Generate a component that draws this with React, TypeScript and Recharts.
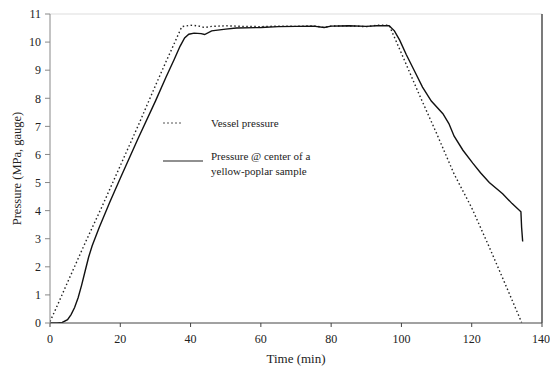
import React from 'react';
import { LineChart, Line, XAxis, YAxis, ReferenceLine, Legend, Label } from 'recharts';

const vesselTime = [0, 2, 5, 10, 15, 20, 25, 30, 33, 35, 37.5, 40, 42, 44, 46, 50, 55, 60, 65, 70, 75, 78, 80, 85, 90, 93, 96.5, 100, 105, 110, 115, 120, 125, 130, 134.2];
const vesselPressure = [0.05, 0.6, 1.45, 2.85, 4.2, 5.6, 7.0, 8.45, 9.3, 9.85, 10.55, 10.6, 10.58, 10.52, 10.56, 10.58, 10.56, 10.55, 10.57, 10.56, 10.58, 10.52, 10.57, 10.58, 10.55, 10.6, 10.6, 9.6, 8.15, 6.75, 5.3, 4.1, 2.7, 1.25, 0.02];

const sampleTime = [0, 2, 3.5, 5, 6, 7, 8, 9, 10, 11, 12, 14, 17, 20, 25, 30, 33, 35.4, 37, 38.3, 39.5, 41, 43, 44, 46, 50, 53, 60, 65, 70, 75, 78, 80, 85, 90, 93, 96.5, 98, 99.5, 101.4, 104, 106, 108.5, 111.8, 113.5, 115, 117.5, 120.3, 122.5, 125, 128.8, 131.5, 134, 134.2, 134.5];
const samplePressure = [0, 0, 0.02, 0.12, 0.3, 0.55, 0.9, 1.35, 1.85, 2.35, 2.75, 3.4, 4.3, 5.15, 6.55, 7.9, 8.75, 9.4, 9.85, 10.15, 10.28, 10.32, 10.3, 10.27, 10.4, 10.46, 10.5, 10.52, 10.55, 10.56, 10.57, 10.52, 10.57, 10.58, 10.56, 10.58, 10.58, 10.4, 10.07, 9.55, 8.9, 8.4, 7.9, 7.45, 7.1, 6.65, 6.15, 5.69, 5.35, 5.0, 4.6, 4.25, 3.96, 3.4, 2.9];

const xTicks = [0, 20, 40, 60, 80, 100, 120, 140];
const yTicks = [0, 1, 2, 3, 4, 5, 6, 7, 8, 9, 10, 11];

const vesselData = vesselTime.map((t, i) => ({ t, p: vesselPressure[i] }));
const sampleData = sampleTime.map((t, i) => ({ t, p: samplePressure[i] }));

const FONT = '"Liberation Serif", "Times New Roman", serif';

const LegendContent = () => (
  <svg width={200} height={70}>
    <line x1={3} y1={13} x2={23} y2={13} stroke="#555" strokeWidth={1} strokeDasharray="2 2" />
    <text x={51} y={13} fontSize={11} fill="#222" fontFamily={FONT} dominantBaseline="central">Vessel pressure</text>
    <line x1={3} y1={51} x2={43} y2={51} stroke="#222" strokeWidth={1.2} />
    <text x={51} y={46} fontSize={11} fill="#222" fontFamily={FONT} dominantBaseline="central">Pressure @ center of a</text>
    <text x={51} y={61} fontSize={11} fill="#222" fontFamily={FONT} dominantBaseline="central">yellow-poplar sample</text>
  </svg>
);

export default function App() {
  return (
    <div style={{ position: 'absolute', left: 0, top: 0, width: 550, height: 371, background: '#fff' }}>
      <LineChart width={550} height={371} margin={{ top: 14, right: 8, bottom: 0, left: 0 }}>
        <XAxis
          type="number"
          dataKey="t"
          domain={[0, 140]}
          ticks={xTicks}
          allowDataOverflow
          height={48}
          tickSize={4}
          tickMargin={7}
          stroke="#444"
          tick={{ fontSize: 12, fill: '#222', fontFamily: FONT }}
        >
          <Label value="Time (min)" position="insideBottom" offset={8} style={{ fontSize: 13, fill: '#222', fontFamily: FONT }} />
        </XAxis>
        <YAxis
          type="number"
          dataKey="p"
          domain={[0, 11]}
          ticks={yTicks}
          interval={0}
          allowDataOverflow
          width={50}
          tickSize={5}
          tickMargin={4}
          stroke="#888"
          tick={{ fontSize: 12, fill: '#222', fontFamily: FONT }}
        >
          <Label
            content={({ viewBox }: any) => {
              const cy = viewBox.y + viewBox.height / 2;
              return (
                <text x={17} y={cy} transform={`rotate(-90 17 ${cy})`} textAnchor="middle" dominantBaseline="central" fontSize={12.5} fill="#222" fontFamily={FONT}>
                  Pressure (MPa, gauge)
                </text>
              );
            }}
          />
        </YAxis>
        <ReferenceLine y={11} stroke="#ddd" strokeWidth={1} />
        <ReferenceLine x={140} stroke="#333" strokeWidth={1.3} />
        <Line
          data={vesselData}
          dataKey="p"
          type="linear"
          stroke="#222"
          strokeWidth={1.4}
          strokeDasharray="1.5 2.5"
          dot={false}
          isAnimationActive={false}
        />
        <Line
          data={sampleData}
          dataKey="p"
          type="linear"
          stroke="#111"
          strokeWidth={1.4}
          dot={false}
          isAnimationActive={false}
        />
        <Legend
          layout="horizontal"
          align="center"
          verticalAlign="middle"
          content={<LegendContent />}
          wrapperStyle={{ position: 'absolute', left: 160, top: 110, width: 200, height: 70 }}
        />
      </LineChart>
    </div>
  );
}
